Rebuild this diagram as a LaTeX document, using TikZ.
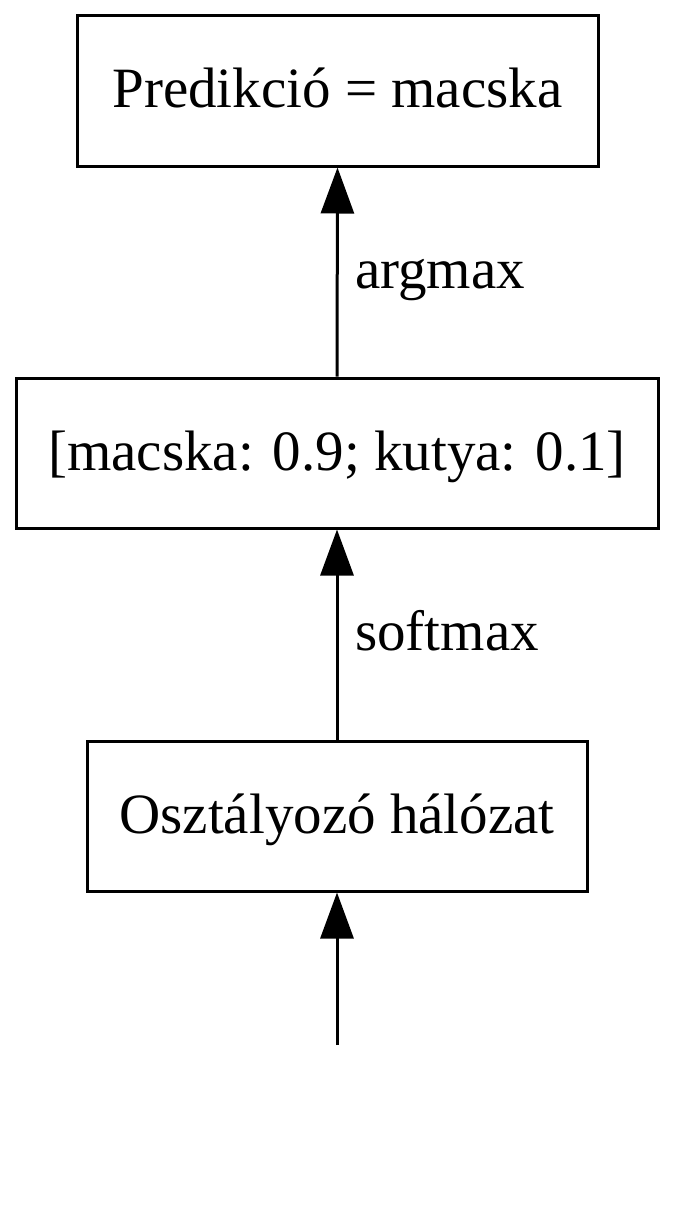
\documentclass[tikz,border=0pt]{standalone}
\usepackage{fontspec}
\setmainfont{Liberation Serif}
\usetikzlibrary{arrows.meta}
\begin{document}
\begin{tikzpicture}[x=1pt,y=-1pt,
  box/.style={draw=black, line width=3pt, rectangle, minimum height=150pt, inner sep=0pt,
    font=\fontsize{57}{68}\selectfont, text height=44pt, text depth=10pt, align=center},
  lbl/.style={font=\fontsize{57}{68}\selectfont, inner sep=0pt, anchor=base west},
  conn/.style={line width=3pt, -{Triangle[length=46pt,width=33pt]}}]
\useasboundingbox (0,0) rectangle (675,1212);
\node[box, minimum width=521pt] (pred) at (337.5,91) {Predikció = macska};
\node[box, minimum width=642pt] (prob) at (337,453) {[macska: 0.9; kutya: 0.1]};
\node[box, minimum width=500pt] (net) at (337,816) {Osztályozó hálózat};
\coordinate (in) at (337,1045);
\draw[conn] (in) -- (net.south);
\draw[conn] (net.north) -- (prob.south);
\draw[conn] (prob.north) -- (pred.south);
\node[lbl] (l1) at (355,288) {argmax};
\node[lbl] (l2) at (355,650) {softmax};
\end{tikzpicture}
\end{document}
